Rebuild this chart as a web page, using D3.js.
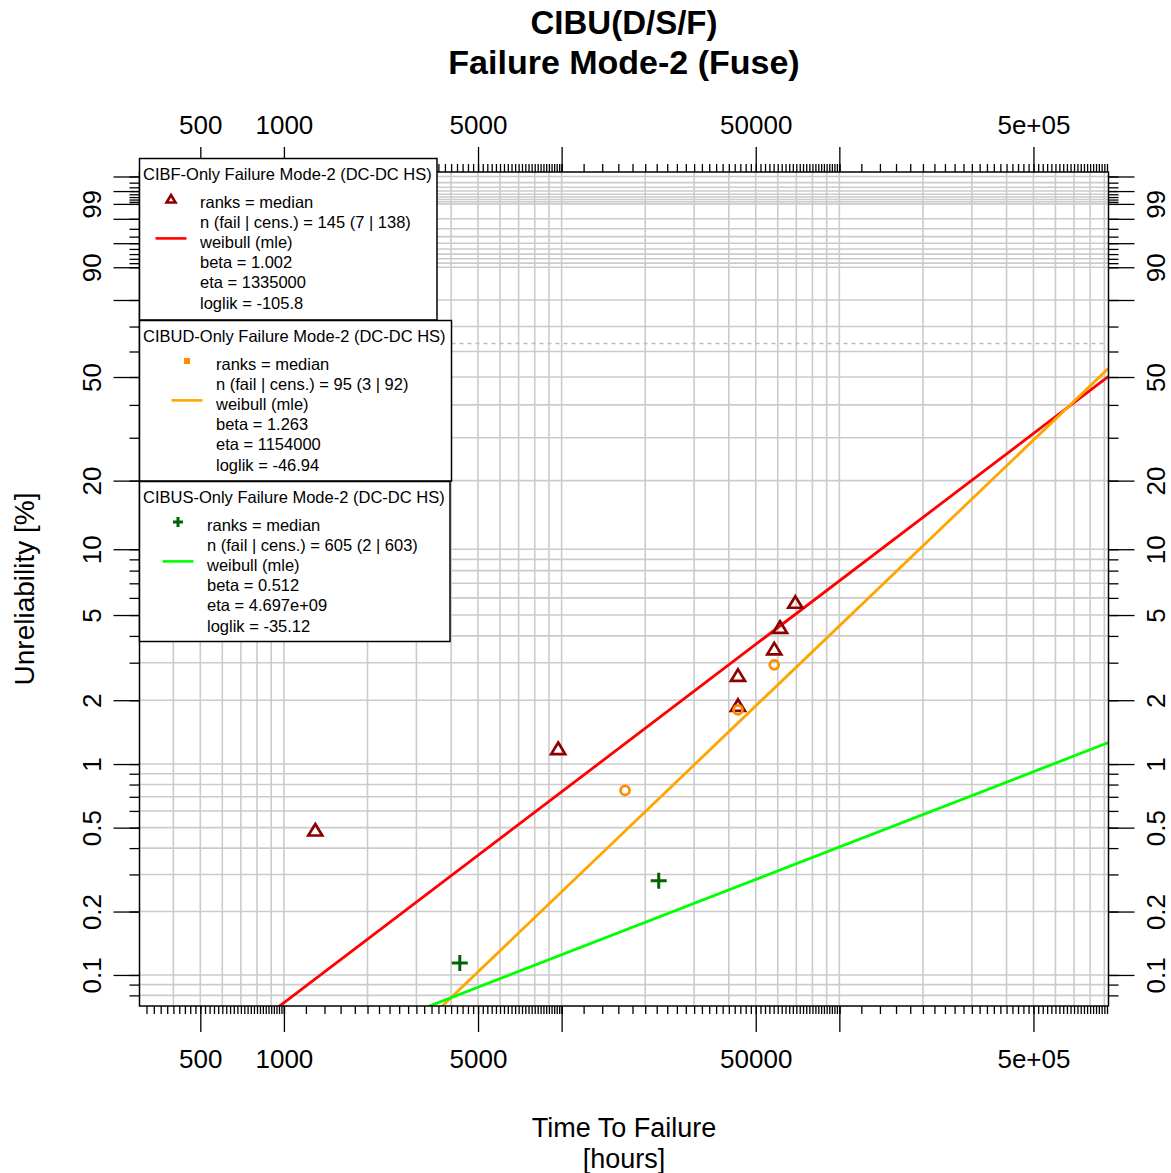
<!DOCTYPE html>
<html>
<head>
<meta charset="utf-8">
<script src="https://cdn.jsdelivr.net/npm/d3@7"></script>
<style>
  body { margin: 0; background: #fff; }
  svg { display: block; font-family: "Liberation Sans", Arial, sans-serif; }
</style>
</head>
<body>
<svg id="chart" width="1171" height="1173"></svg>
<script>
// Failure data per population: time to failure [hours] and median-rank unreliability [%]
const cibfTime  = [1297, 9719, 43150, 43150, 58300, 61140, 69400];
const cibfUnrel = [0.49, 1.19, 1.90, 2.63, 3.50, 4.41, 5.76];
const cibudTime  = [16920, 43150, 58300];
const cibudUnrel = [0.75, 1.80, 2.93];
const cibusTime  = [4298, 22370];
const cibusUnrel = [0.114, 0.28];

// Weibull MLE fits, one per population
const fitNames   = ["CIBF-Only Failure Mode-2 (DC-DC HS)",
                    "CIBUD-Only Failure Mode-2 (DC-DC HS)",
                    "CIBUS-Only Failure Mode-2 (DC-DC HS)"];
const fitBeta    = [1.002, 1.263, 0.512];
const fitEta     = [1335000, 1154000, 4.697e9];
const etaText    = ["1335000", "1154000", "4.697e+09"];
const betaText   = ["1.002", "1.263", "0.512"];
const loglikText = ["-105.8", "-46.94", "-35.12"];
const nTotal = [145, 95, 605];
const nFail  = [7, 3, 2];
const nCens  = [138, 92, 603];

// Axis ticks
const xMajorTicks = [500, 1000, 5000, 10000, 50000, 100000, 500000];
const xLabelTicks = [500, 1000, 5000, 50000, 500000];
const xLabelText  = ["500", "1000", "5000", "50000", "5e+05"];
const yMajorTicks = [0.1, 0.2, 0.5, 1, 2, 5, 10, 20, 50, 80, 90, 95, 98, 99, 99.5, 99.8];
const yLabelTicks = [0.1, 0.2, 0.5, 1, 2, 5, 10, 20, 50, 90, 99];
const yLabelText  = ["0.1", "0.2", "0.5", "1", "2", "5", "10", "20", "50", "90", "99"];

// ---- layout ----
const L = 139.5, R = 1108.5, T = 172, B = 1006;
const svg = d3.select("#chart");

// Weibull probability transform: ln(-ln(1-F))
const weib = p => Math.log(-Math.log(1 - p / 100));
const x = d3.scaleLog().domain([302, 931500]).range([L, R]);
const y = d3.scaleLinear().domain([-7.2468, 1.876]).range([B, T]);
const yp = p => y(weib(p));

// minor x ticks: steps of 0.2 * 10^k within each decade
const xMinor = [];
for (let k = 2; k <= 5; k++) {
  const base = Math.pow(10, k);
  for (let j = 0; j <= 45; j++) {
    const v = base + j * 0.2 * base;
    if (v >= 302 && v <= 931500) xMinor.push(v);
  }
}
// x grid: 1..9 * 10^k
const xGrid = [];
for (let k = 2; k <= 5; k++) for (let m = 1; m <= 9; m++) {
  const v = m * Math.pow(10, k);
  if (v >= 302 && v <= 931500) xGrid.push(v);
}
// y grid / minor ticks
const yGrid = [];
[0.01, 0.1, 1, 10].forEach(b => { for (let m = 1; m <= 9; m++) yGrid.push(+(m * b).toPrecision(3)); });
for (let m = 91; m <= 99; m++) yGrid.push(m);
for (let m = 1; m <= 8; m++) yGrid.push(+(99 + m / 10).toFixed(1));
const yGridIn = yGrid.filter(p => yp(p) <= B + 0.5 && yp(p) >= T - 0.5);

const defs = svg.append("defs");
defs.append("clipPath").attr("id", "plotClip")
  .append("rect").attr("x", L).attr("y", T).attr("width", R - L).attr("height", B - T);

// ---- grid ----
const grid = svg.append("g").attr("stroke", "#cbcbcb").attr("stroke-width", 1.6);
grid.selectAll("line.gx").data(xGrid).join("line")
  .attr("x1", d => x(d)).attr("x2", d => x(d)).attr("y1", T).attr("y2", B);
grid.selectAll("line.gy").data(yGridIn).join("line")
  .attr("x1", L).attr("x2", R).attr("y1", d => yp(d)).attr("y2", d => yp(d));

// characteristic-life line (63.2 %)
svg.append("line").attr("x1", L).attr("x2", R).attr("y1", y(0)).attr("y2", y(0))
  .attr("stroke", "#bdbdbd").attr("stroke-width", 1.3).attr("stroke-dasharray", "4,4");

// ---- fitted Weibull lines ----
const lineColors = ["#ff0000", "#ffa500", "#00ff00"];
const fits = svg.append("g").attr("clip-path", "url(#plotClip)");
const lineGen = d3.line().x(d => x(d.t)).y(d => y(d.w));
fitBeta.forEach((beta, i) => {
  const ends = x.domain().map(t => ({ t, w: beta * (Math.log(t) - Math.log(fitEta[i])) }));
  fits.append("path").datum(ends).attr("d", lineGen)
    .attr("fill", "none").attr("stroke", lineColors[i]).attr("stroke-width", 2.8);
});

// ---- points ----
const pts = svg.append("g").attr("clip-path", "url(#plotClip)");
const triPath = "M0,-5.5L7,6L-7,6Z";
pts.selectAll("path.tri").data(d3.zip(cibfTime, cibfUnrel)).join("path")
  .attr("d", triPath)
  .attr("transform", d => `translate(${x(d[0])},${yp(d[1])})`)
  .attr("fill", "none").attr("stroke", "#8b0000").attr("stroke-width", 2.7);
pts.selectAll("circle.o").data(d3.zip(cibudTime, cibudUnrel)).join("circle")
  .attr("cx", d => x(d[0])).attr("cy", d => yp(d[1])).attr("r", 4.5)
  .attr("fill", "none").attr("stroke", "#ff8c00").attr("stroke-width", 2.7);
pts.selectAll("path.plus").data(d3.zip(cibusTime, cibusUnrel)).join("path")
  .attr("d", "M-8,0H8M0,-8V8")
  .attr("transform", d => `translate(${x(d[0])},${yp(d[1])})`)
  .attr("fill", "none").attr("stroke", "#006400").attr("stroke-width", 3);

// ---- axes ----
const tickFont = 26;
function styleAxis(g) {
  g.select(".domain").remove();
  g.selectAll("line").attr("stroke", "#000").attr("stroke-width", 1.3);
  g.selectAll("text").attr("fill", "#000").attr("font-size", tickFont)
    .attr("font-family", "'Liberation Sans', Arial, sans-serif");
}
// bottom
svg.append("g").attr("transform", `translate(0,${B})`)
  .call(d3.axisBottom(x).tickValues(xMinor).tickSize(8).tickSizeOuter(0).tickFormat("")).call(styleAxis);
svg.append("g").attr("transform", `translate(0,${B})`)
  .call(d3.axisBottom(x).tickValues(xMajorTicks).tickSize(26).tickSizeOuter(0).tickFormat("")).call(styleAxis);
svg.append("g").attr("transform", `translate(0,${B})`)
  .call(d3.axisBottom(x).tickValues(xLabelTicks).tickSize(0).tickSizeOuter(0)
    .tickFormat((d, i) => xLabelText[i])).call(styleAxis)
  .selectAll("text").attr("y", 61.5).attr("dy", 0);
// top
svg.append("g").attr("transform", `translate(0,${T})`)
  .call(d3.axisTop(x).tickValues(xMinor).tickSize(8).tickSizeOuter(0).tickFormat("")).call(styleAxis);
svg.append("g").attr("transform", `translate(0,${T})`)
  .call(d3.axisTop(x).tickValues(xMajorTicks).tickSize(25).tickSizeOuter(0).tickFormat("")).call(styleAxis);
svg.append("g").attr("transform", `translate(0,${T})`)
  .call(d3.axisTop(x).tickValues(xLabelTicks).tickSize(0).tickSizeOuter(0)
    .tickFormat((d, i) => xLabelText[i])).call(styleAxis)
  .selectAll("text").attr("y", -38.5).attr("dy", 0);

// left / right, on the Weibull scale
const wMinor = yGridIn.map(weib), wMajor = yMajorTicks.map(weib), wLabel = yLabelTicks.map(weib);
[[d3.axisLeft, L, -38.5], [d3.axisRight, R, 56]].forEach(([ax, pos, off]) => {
  svg.append("g").attr("transform", `translate(${pos},0)`)
    .call(ax(y).tickValues(wMinor).tickSize(10).tickSizeOuter(0).tickFormat("")).call(styleAxis);
  svg.append("g").attr("transform", `translate(${pos},0)`)
    .call(ax(y).tickValues(wMajor).tickSize(26).tickSizeOuter(0).tickFormat("")).call(styleAxis);
  svg.append("g").attr("transform", `translate(${pos},0)`)
    .call(ax(y).tickValues(wLabel).tickSize(0).tickSizeOuter(0)
      .tickFormat((d, i) => yLabelText[i])).call(styleAxis)
    .selectAll("text").attr("x", 0).attr("dy", 0).attr("text-anchor", "middle")
    .attr("transform", `translate(${off},0) rotate(-90)`);
});

// plot border
svg.append("rect").attr("x", L).attr("y", T).attr("width", R - L).attr("height", B - T)
  .attr("fill", "none").attr("stroke", "#000").attr("stroke-width", 1.5);

// ---- legends ----
const legendBoxes = [
  { x0: L, y0: 158.5, w: 297.5, h: 161.5, tx: 200 },
  { x0: L, y0: 320.5, w: 312,   h: 160.5, tx: 216 },
  { x0: L, y0: 481.5, w: 310.5, h: 160,   tx: 207 }
];
const legFont = 16.5;
legendBoxes.forEach((bx, i) => {
  const g = svg.append("g");
  g.append("rect").attr("x", bx.x0).attr("y", bx.y0).attr("width", bx.w).attr("height", bx.h)
    .attr("fill", "#fff").attr("stroke", "#000").attr("stroke-width", 1.5);
  g.append("text").attr("x", bx.x0 + 3.5).attr("y", bx.y0 + 21.5)
    .attr("font-size", legFont).attr("fill", "#000").text(fitNames[i]);
  const rows = [
    "ranks = median",
    `n (fail | cens.) = ${nTotal[i]} (${nFail[i]} | ${nCens[i]})`,
    "weibull (mle)",
    `beta = ${betaText[i]}`,
    `eta = ${etaText[i]}`,
    `loglik = ${loglikText[i]}`
  ];
  const r0 = bx.y0 + 43;
  g.selectAll("text.row").data(rows).join("text")
    .attr("x", bx.tx).attr("y", (d, j) => r0 + 6 + j * 20.2)
    .attr("font-size", legFont).attr("fill", "#000").text(d => d);
  const sx = bx.tx - 29, symY = r0 - 2.5, lineY = r0 + 2 * 20.2 - 3.5;
  if (i === 0) {
    g.append("path").attr("d", "M0,-4L4.5,3.5L-4.5,3.5Z").attr("transform", `translate(${sx},${symY})`)
      .attr("fill", "none").attr("stroke", "#8b0000").attr("stroke-width", 2.6);
  } else if (i === 1) {
    g.append("rect").attr("x", sx - 3).attr("y", symY - 3).attr("width", 6).attr("height", 6)
      .attr("fill", "#ff8c00");
  } else {
    g.append("path").attr("d", "M-5,0H5M0,-5V5").attr("transform", `translate(${sx},${symY})`)
      .attr("stroke", "#006400").attr("stroke-width", 3);
  }
  g.append("line").attr("x1", sx - 15.5).attr("x2", sx + 15.5).attr("y1", lineY).attr("y2", lineY)
    .attr("stroke", lineColors[i]).attr("stroke-width", 2.6);
});

// ---- titles ----
svg.append("text").attr("x", (L + R) / 2).attr("y", 34).attr("text-anchor", "middle")
  .attr("font-size", 33).attr("font-weight", "bold").text("CIBU(D/S/F)");
svg.append("text").attr("x", (L + R) / 2).attr("y", 74).attr("text-anchor", "middle")
  .attr("font-size", 34).attr("font-weight", "bold").text("Failure Mode-2 (Fuse)");
svg.append("text").attr("x", (L + R) / 2).attr("y", 1136.5).attr("text-anchor", "middle")
  .attr("font-size", 27).text("Time To Failure");
svg.append("text").attr("x", (L + R) / 2).attr("y", 1168).attr("text-anchor", "middle")
  .attr("font-size", 27).text("[hours]");
svg.append("text").attr("transform", `translate(34,${(T + B) / 2}) rotate(-90)`)
  .attr("text-anchor", "middle").attr("font-size", 28).text("Unreliability [%]");
</script>
</body>
</html>
